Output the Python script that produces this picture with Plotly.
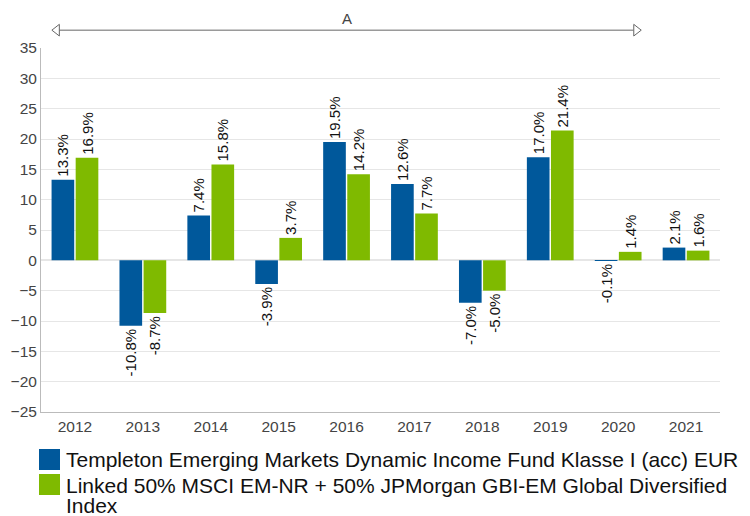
import plotly.graph_objects as go

years = ["2012", "2013", "2014", "2015", "2016", "2017", "2018", "2019", "2020", "2021"]
fund = [13.3, -10.8, 7.4, -3.9, 19.5, 12.6, -7.0, 17.0, -0.1, 2.1]
index = [16.9, -8.7, 15.8, 3.7, 14.2, 7.7, -5.0, 21.4, 1.4, 1.6]
fund_name_lines = ["Templeton Emerging Markets Dynamic Income Fund Klasse I (acc) EUR"]
index_name_lines = ["Linked 50% MSCI EM-NR + 50% JPMorgan GBI-EM Global Diversified", "Index"]
y_ticks = [-25, -20, -15, -10, -5, 0, 5, 10, 15, 20, 25, 30, 35]
period_label = "A"
period_span = [-0.34, 8.34]  # in category index units

fund_color = "#00589b"
index_color = "#7fba00"
font_family = "Liberation Sans, Arial, sans-serif"

fig = go.Figure()
for vals, lines, color in [(fund, fund_name_lines, fund_color), (index, index_name_lines, index_color)]:
    fig.add_trace(go.Bar(
        x=years, y=vals, name=" ".join(lines), marker=dict(color=color, line=dict(width=0)),
        text=[f"{v:.1f}%" for v in vals], textposition="outside", textangle=-90,
        constraintext="none", showlegend=False,
        textfont=dict(size=15, color="#111", family=font_family), cliponaxis=False,
    ))

# period arrow "A"
arrow_y = 1.049
dx, dy = 0.11, 0.016
x0, x1 = period_span
fig.add_shape(type="line", xref="x2", yref="paper", x0=x0 + dx, x1=x1 - dx,
              y0=arrow_y, y1=arrow_y, line=dict(color="#666", width=1))
fig.add_shape(type="path", xref="x2", yref="paper",
              path=f"M {x0},{arrow_y} L {x0 + dx},{arrow_y + dy} L {x0 + dx},{arrow_y - dy} Z",
              line=dict(color="#666", width=1), fillcolor="white")
fig.add_shape(type="path", xref="x2", yref="paper",
              path=f"M {x1},{arrow_y} L {x1 - dx},{arrow_y + dy} L {x1 - dx},{arrow_y - dy} Z",
              line=dict(color="#666", width=1), fillcolor="white")
fig.add_annotation(x=(x0 + x1) / 2, y=1.082, xref="x2", yref="paper", text=period_label,
                   showarrow=False, font=dict(size=15, color="#444", family=font_family),
                   yanchor="middle")

# legend (drawn below the plot to match the reference's tight line spacing)
plot_h = 364.0
def py(px):
    return (412 - px) / plot_h

legend_items = [
    (fund_color, 449, 470, fund_name_lines, [459.5]),
    (index_color, 474, 495, index_name_lines, [485.0, 505.5]),
]
for color, top, bottom, lines, centers in legend_items:
    fig.add_shape(type="rect", xref="paper", yref="paper",
                  x0=(39 - 41) / 679, x1=(60 - 41) / 679, y0=py(bottom), y1=py(top),
                  fillcolor=color, line=dict(width=0))
    for line, c in zip(lines, centers):
        fig.add_annotation(x=(66 - 41) / 679, y=py(c), xref="paper", yref="paper",
                           text=line, showarrow=False, xanchor="left", yanchor="middle",
                           font=dict(size=21, color="#111", family=font_family),
                           borderpad=0, borderwidth=0)

fig.update_layout(
    width=742, height=508,
    margin=dict(l=33, r=30, t=40, b=104, autoexpand=False),
    paper_bgcolor="white", plot_bgcolor="white",
    barmode="group", bargap=0.29, bargroupgap=0.06,
    font=dict(family=font_family, color="#333"),
    xaxis=dict(type="category", showgrid=False, showline=True, linecolor="#bbb",
               ticks="", tickfont=dict(size=15.5, color="#444"), range=[-0.5, 9.5]),
    xaxis2=dict(overlaying="x", range=[-0.5, 9.5], visible=False),
    yaxis=dict(range=[-25, 35], tickvals=y_ticks, showgrid=True, gridcolor="#e6e6e6",
               zeroline=True, zerolinecolor="#e6e6e6", showline=True, linecolor="#bbb",
               ticks="", tickfont=dict(size=15.5, color="#444")),
    showlegend=False,
)

fig.write_html("out.html")
